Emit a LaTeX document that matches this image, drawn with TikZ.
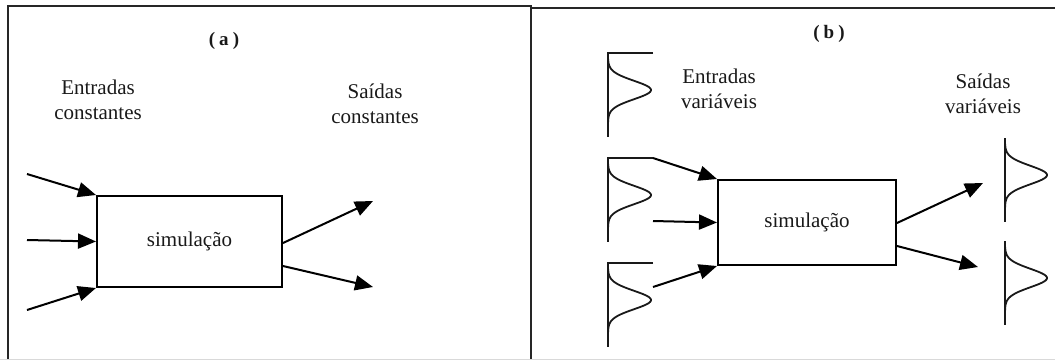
\documentclass[tikz,border=0pt]{standalone}
\usepackage{fontspec}
\setmainfont{Liberation Serif}
\usetikzlibrary{arrows.meta,calc}
\newcommand\gaussL[2]{%
  \draw[gauss] (#1+45,#2) -- (#1,#2) -- (#1,#2+84);
  \draw[gauss] plot[domain=-31:40,samples=90,smooth] ({#1+43*exp(-1*pow(\x/13,2))},{#2+37+\x});
}
\newcommand\gaussR[2]{%
  \draw[gauss] (#1,#2) -- (#1,#2+84);
  \draw[gauss] plot[domain=-31:40,samples=90,smooth] ({#1+42*exp(-1*pow(\x/13,2))},{#2+37+\x});
}
\begin{document}
\begin{tikzpicture}[x=1pt,y=-1pt,
  lbl/.style={font=\fontsize{21}{25}\selectfont, align=center, text=black!90, inner sep=0pt},
  ttl/.style={font=\fontsize{19}{22}\selectfont\bfseries, text=black!90, inner sep=0pt},
  simbox/.style={draw, line width=2pt, font=\fontsize{21}{25}\selectfont, text=black!90, inner sep=0pt},
  arr/.style={line width=2pt, -{Triangle[length=18pt,width=15pt]}},
  frameline/.style={line width=2pt, black!85},
  gauss/.style={line width=1.8pt, black!90}
]
\useasboundingbox (0,0) rectangle (1055,360);
% frames
\draw[frameline] (8,359) -- (8,6) -- (531,6) -- (531,359);
\draw[frameline] (531,8) -- (1056,8);
\draw[black!15, line width=1pt] (0,359.5) -- (1055,359.5);

% ---------------- panel (a) ----------------
\node[ttl] (ta) at (224,41) {(\hspace{4pt}a\hspace{4pt})};
\node[lbl] (ina) at (98,100) {Entradas\\constantes};
\node[lbl] (outa) at (375,104) {Saídas\\constantes};
\node[simbox, minimum width=185pt, minimum height=91pt] (boxa) at (189.5,241.5) {simulação};

\coordinate (a1) at (27,174);
\coordinate (a2) at (27,240);
\coordinate (a3) at (27,310);
\coordinate (a4) at (373,201);
\coordinate (a5) at (373,287);
\draw[arr] (a1) -- (boxa.north west);
\draw[arr] (a2) -- (boxa.west);
\draw[arr] (a3) -- (boxa.south west);
\draw[arr] ([yshift=-1.5pt]boxa.east) -- (a4);
\draw[arr] ([yshift=-24.5pt]boxa.east) -- (a5);

% ---------------- panel (b) ----------------
\node[ttl] (tb) at (829,34) {(\hspace{4pt}b\hspace{4pt})};
\node[lbl] (inb) at (719,89) {Entradas\\variáveis};
\node[lbl] (outb) at (983,94) {Saídas\\variáveis};
\node[simbox, minimum width=178pt, minimum height=85pt] (boxb) at (807,222.5) {simulação};

\gaussL{608}{53}
\gaussL{608}{158}
\gaussL{608}{263}
\gaussR{1005}{138}
\gaussR{1005}{241}

\coordinate (b1) at (653,158);
\coordinate (b2) at (653,221);
\coordinate (b3) at (653,287);
\coordinate (b4) at (983,183);
\coordinate (b5) at (978,267);
\draw[arr] (b1) -- (boxb.north west);
\draw[arr] (b2) -- (boxb.west);
\draw[arr] (b3) -- (boxb.south west);
\draw[arr] ([yshift=-0.5pt]boxb.east) -- (b4);
\draw[arr] ([yshift=-23.5pt]boxb.east) -- (b5);
\end{tikzpicture}
\end{document}
